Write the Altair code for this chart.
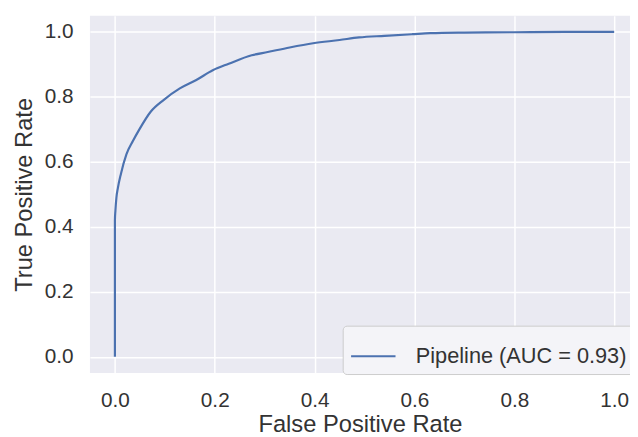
import altair as alt
import pandas as pd

# ROC curve points
fpr = [0.0, 0.0, 0.001, 0.003, 0.006, 0.012, 0.023, 0.036, 0.049, 0.072, 0.098,
       0.130, 0.163, 0.196, 0.228, 0.274, 0.306, 0.350, 0.397, 0.450, 0.489,
       0.540, 0.596, 0.632, 0.700, 0.800, 0.900, 1.0]
tpr = [0.0, 0.42, 0.45, 0.49, 0.52, 0.563, 0.623, 0.664, 0.700, 0.755, 0.791,
       0.826, 0.852, 0.882, 0.902, 0.928, 0.938, 0.952, 0.965, 0.975, 0.983,
       0.988, 0.993, 0.996, 0.998, 0.999, 1.0, 1.0]
series_name = "Pipeline (AUC = 0.93)"
tick_values = [0.0, 0.2, 0.4, 0.6, 0.8, 1.0]

df = pd.DataFrame({"fpr": fpr, "tpr": tpr, "series": [series_name] * len(fpr)})
df["order"] = range(len(df))

FONT = "Liberation Sans"
TEXT = "#333333"

chart = (
    alt.Chart(df)
    .mark_line(strokeWidth=2.2, clip=True, interpolate="monotone")
    .encode(
        x=alt.X("fpr:Q",
                scale=alt.Scale(domain=[-0.05, 1.0317], nice=False, zero=False),
                axis=alt.Axis(title="False Positive Rate", values=tick_values, format=".1f",
                              labelFlush=False, ticks=False, domain=False,
                              labelPadding=17, labelFontSize=21, titleFontSize=24,
                              titlePadding=2, gridColor="white", gridWidth=1.5,
                              gridOpacity=1)),
        y=alt.Y("tpr:Q",
                scale=alt.Scale(domain=[-0.05, 1.05], nice=False, zero=False),
                axis=alt.Axis(title="True Positive Rate", values=tick_values, format=".1f",
                              labelFlush=False, ticks=False, domain=False,
                              labelPadding=17, labelFontSize=21, titleFontSize=24,
                              titlePadding=8, gridColor="white", gridWidth=1.5,
                              gridOpacity=1)),
        color=alt.Color("series:N",
                        scale=alt.Scale(domain=[series_name], range=["#4C72B0"]),
                        legend=alt.Legend(title=None, orient="none", legendX=256, legendY=314,
                                          symbolType="stroke", symbolSize=2025,
                                          symbolStrokeWidth=2.2, labelFontSize=22,
                                          labelOffset=19, padding=7, labelLimit=0,
                                          fillColor="#F4F4F8", strokeColor="#CCCCCC",
                                          cornerRadius=4, labelColor=TEXT, labelFont=FONT)),
        order="order:Q",
    )
    .properties(
        width=547, height=362,
        autosize=alt.AutoSizeParams(type="none"),
        padding={"left": 83, "top": 5, "right": 0, "bottom": 62},
        background="white",
    )
    .configure_view(fill="#EAEAF2", stroke=None)
    .configure_axis(labelFont=FONT, titleFont=FONT, labelColor=TEXT, titleColor=TEXT,
                    titleFontWeight="normal")
)

chart.save("out.html", embed_options={"renderer": "svg", "actions": False})
